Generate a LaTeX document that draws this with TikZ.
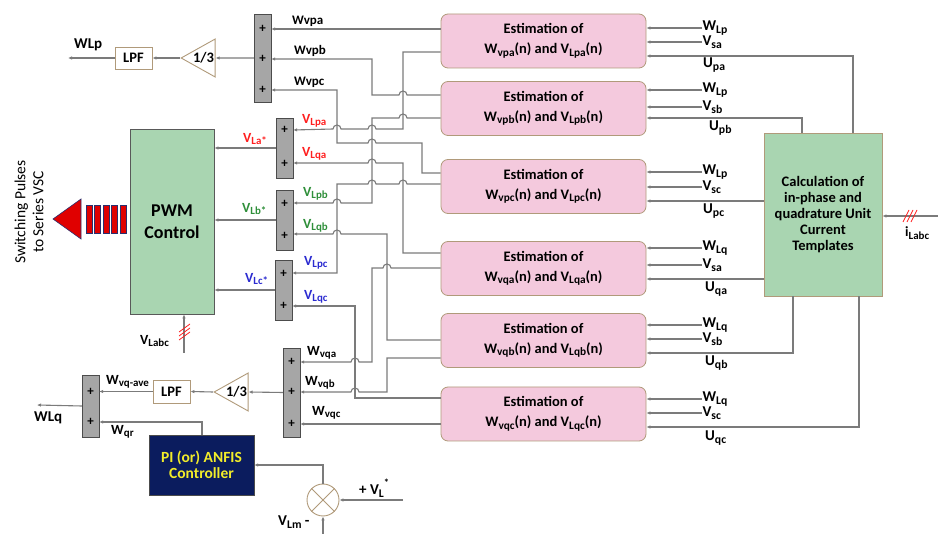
\documentclass[tikz,border=0pt]{standalone}
\usepackage{fontspec}
\setmainfont{Carlito}
\usetikzlibrary{arrows.meta,positioning,shapes.geometric}
\definecolor{wiregray}{HTML}{7B7B7B}
\definecolor{estpink}{HTML}{F4C9DD}
\definecolor{tanline}{HTML}{B09A7A}
\definecolor{boxgreen}{HTML}{A9D5B1}
\definecolor{sumgray}{HTML}{A6A6A6}
\definecolor{pinavy}{HTML}{0B1C5E}
\definecolor{piyellow}{HTML}{F2EC2A}
\definecolor{lred}{HTML}{FF1F1F}
\definecolor{lgreen}{HTML}{2F8F3A}
\definecolor{lblue}{HTML}{2B2BD0}
\definecolor{arrred}{HTML}{E00000}
\definecolor{arrblue}{HTML}{2A2F6E}
\newcommand{\sub}[2]{#1\raisebox{-0.35ex}{\scalebox{0.78}{#2}}}
% small bridge where a wire running left jumps over a vertical one
\newcommand{\hop}[2]{-- (#1+4,#2) arc[start angle=0,end angle=180,radius=4pt]}

\begin{document}
\begin{tikzpicture}[
      x=1pt, y=-1pt,
      font=\fontsize{14}{16}\selectfont\bfseries,
      wire/.style={draw=wiregray, line width=1.1pt},
      arrow/.style={wire, -{Latex[length=4pt,width=3.5pt]}},
      est/.style={draw=tanline, fill=estpink, rounded corners=7pt, line width=0.8pt, minimum width=205pt, minimum height=54pt, align=center, font=\fontsize{14.5}{20}\selectfont\bfseries},
      sumbar/.style={draw=gray!60!black, fill=sumgray, minimum width=17pt, inner sep=0pt},
      plus/.style={inner sep=0pt, font=\fontsize{13}{13}\selectfont\bfseries},
      lpf/.style={draw=tanline, fill=white, line width=0.9pt, minimum width=37pt, minimum height=22pt, inner sep=0pt, font=\fontsize{14.5}{15}\selectfont\bfseries},
      gain/.style={isosceles triangle, shape border rotate=180, isosceles triangle stretches, draw=tanline, fill=white, line width=0.9pt, minimum width=38pt, minimum height=28pt, inner sep=0pt, font=\fontsize{14.5}{15}\selectfont\bfseries},
      lab/.style={anchor=west, inner sep=0pt},
      rlab/.style={anchor=west, inner sep=0pt, font=\fontsize{15}{15}\selectfont\bfseries},
      hash/.style={draw=lred, line width=0.8pt}
    ]
    \useasboundingbox (0,0) rectangle (938,534);

    % estimation blocks
    \node[est] (e1) at (543.5,41)  {Estimation of\\\sub{W}{vpa}(n) and \sub{V}{Lpa}(n)};
    \node[est] (e2) at (543.5,108.5) {Estimation of\\\sub{W}{vpb}(n) and \sub{V}{Lpb}(n)};
    \node[est] (e3) at (543.5,186.5) {Estimation of\\\sub{W}{vpc}(n) and \sub{V}{Lpc}(n)};
    \node[est] (e4) at (543.5,268.5) {Estimation of\\\sub{W}{vqa}(n) and \sub{V}{Lqa}(n)};
    \node[est] (e5) at (543.5,340.5) {Estimation of\\\sub{W}{vqb}(n) and \sub{V}{Lqb}(n)};
    \node[est] (e6) at (543.5,414)  {Estimation of\\\sub{W}{vqc}(n) and \sub{V}{Lqc}(n)};

    \node[draw=tanline, fill=boxgreen, line width=0.8pt, minimum width=118pt, minimum height=163pt, align=center, font=\fontsize{14.5}{16}\selectfont\bfseries] (calc) at (823,214.5)
      {Calculation of\\in-phase and\\quadrature Unit\\Current\\Templates};
    \node[draw=gray!70!black, fill=boxgreen, line width=0.8pt, minimum width=84pt, minimum height=185pt, align=center, font=\fontsize{18}{22}\selectfont\bfseries] (pwm) at (172,221.5) {PWM\\Control};

    % summing bars
    \node[sumbar, minimum height=88pt] (sp) at (262.5,58) {};
    \node[sumbar, minimum height=60pt] (sa) at (284.5,148) {};
    \node[sumbar, minimum height=60pt] (sb) at (284.5,220) {};
    \node[sumbar, minimum height=60pt] (sc) at (283.5,290) {};
    \node[sumbar, minimum height=89pt] (sq) at (291.5,392.5) {};
    \node[sumbar, minimum height=62pt] (sl) at (90.5,406) {};
    \foreach \y [count=\i] in {29,59,90} \node[plus] (spp\i) at (262.5,\y) {+};
    \foreach \y [count=\i] in {130,164} \node[plus] (sap\i) at (284.5,\y) {+};
    \foreach \y [count=\i] in {204,236} \node[plus] (sbp\i) at (284.5,\y) {+};
    \foreach \y [count=\i] in {274,306} \node[plus] (scp\i) at (283.5,\y) {+};
    \foreach \y [count=\i] in {362,392,424} \node[plus] (sqp\i) at (291.5,\y) {+};
    \foreach \y [count=\i] in {392,422} \node[plus] (slp\i) at (90.5,\y) {+};

    \node[gain, anchor=west] (gp) at (180,58) {1/3};
    \node[gain, anchor=west] (gq) at (213,392) {1/3};
    \node[lpf] (lpfp) at (133.5,58) {LPF};
    \node[lpf, minimum height=23pt] (lpfq) at (171.5,391.5) {LPF};
    \node[fill=pinavy, draw=gray!60!black, minimum width=105pt, minimum height=60pt, align=center, text=piyellow, font=\fontsize{15.5}{16}\selectfont\bfseries] (pi) at (201.5,465) {PI (or) ANFIS\\Controller};
    \node[circle, draw=tanline, fill=white, line width=0.9pt, minimum size=32pt, inner sep=0pt] (mul) at (323,500) {};
    \draw[draw=tanline, line width=0.9pt] (mul.north west) -- (mul.south east) (mul.north east) -- (mul.south west);

    % p-axis averaging
    \draw[arrow] (sp.west) -- (gp.east);
    \draw[arrow] (gp.west) -- (lpfp.east);
    \draw[arrow] (lpfp.west) -- (68,58) coordinate (wlpend);
    \node[rlab] (wlp) at (74,45) {WLp};
    \draw[arrow] (e1.west |- 0,29) -- (sp.east |- 0,29);
    \draw[arrow] (e2.west |- 0,95) \hop{403}{95} -- (372,95) -- (372,59) -- (sp.east |- 0,59);
    \draw[arrow] (e3.west |- 0,173) -- (422,173) -- (422,143) \hop{372}{143} -- (337,143) -- (337,90) -- (sp.east |- 0,90);
    \node[lab, font=\fontsize{13}{13}\selectfont\bfseries] (lwvpa) at (292,21) {Wvpa};
    \node[lab, font=\fontsize{13}{13}\selectfont\bfseries] (lwvpb) at (294,51) {Wvpb};
    \node[lab, font=\fontsize{13}{13}\selectfont\bfseries] (lwvpc) at (294,82) {Wvpc};

    % load voltage components
    \draw[arrow] (e1.west |- 0,52) -- (403,52) -- (403,129) \hop{372}{129} \hop{337}{129} -- (sa.east |- 0,130);
    \draw[arrow] (e4.west |- 0,253) -- (403,253) -- (403,163) \hop{372}{163} -- (sa.east |- 0,163);
    \draw[arrow] (e2.west |- 0,118) \hop{403}{118} -- (372,118) -- (372,203) \hop{337}{203} -- (sb.east |- 0,203);
    \draw[arrow] (e5.west |- 0,340) -- (387,340) -- (387,234) \hop{337}{234} -- (sb.east |- 0,234);
    \draw[arrow] (e3.west |- 0,184) \hop{403}{184} \hop{372}{184} -- (337,184) -- (337,273) -- (sc.east |- 0,273);
    \draw[arrow] (e6.west |- 0,398) -- (355,398) -- (355,306) -- (sc.east |- 0,306);
    \node[lab, text=lred] (lvlpa) at (302,121) {\sub{V}{Lpa}};
    \node[lab, text=lred] (lvlqa) at (302,154) {\sub{V}{Lqa}};
    \node[lab, text=lgreen] (lvlpb) at (303,194) {\sub{V}{Lpb}};
    \node[lab, text=lgreen] (lvlqb) at (303,226) {\sub{V}{Lqb}};
    \node[lab, text=lblue] (lvlpc) at (304,263) {\sub{V}{Lpc}};
    \node[lab, text=lblue] (lvlqc) at (304,297) {\sub{V}{Lqc}};

    \draw[arrow] (sa.west) -- (pwm.east |- sa.west);
    \draw[arrow] (sb.west) -- (pwm.east |- sb.west);
    \draw[arrow] (sc.west) -- (pwm.east |- sc.west);
    \node[lab, text=lred] (lvla) at (243,139) {\sub{V}{La*}};
    \node[lab, text=lgreen] (lvlb) at (242,209) {\sub{V}{Lb*}};
    \node[lab, text=lblue] (lvlc) at (245,279) {\sub{V}{Lc*}};

    % q-axis averaging
    \draw[arrow] (e4.west |- 0,268) \hop{387}{268} -- (372,268) -- (372,362) \hop{355}{362} -- (sq.east |- 0,362);
    \draw[arrow] (e5.west |- 0,358) -- (387,358) -- (387,392) \hop{355}{392} -- (sq.east |- 0,392);
    \draw[arrow] (e6.west |- 0,424) -- (sq.east |- 0,424);
    \node[lab] (lwvqa) at (307,353) {\sub{W}{vqa}};
    \node[lab] (lwvqb) at (305,383) {\sub{W}{vqb}};
    \node[lab] (lwvqc) at (312,413) {\sub{W}{vqc}};
    \draw[arrow] (sq.west) -- (gq.east);
    \draw[arrow] (gq.west) -- (lpfq.east);
    \draw[arrow] (lpfq.west) -- (sl.east |- lpfq.west);
    \node[lab] (lwvqave) at (106,382) {\sub{W}{vq-ave}};
    \draw[arrow] (sl.west) -- (37,405) coordinate (wlqend);
    \node[rlab] (wlq) at (34,418) {WLq};
    \draw[arrow] (pi.north -| 202,0) -- (202,422) -- (sl.east |- 0,422);
    \node[lab] (lwqr) at (111,432) {\sub{W}{qr}};

    % dc link voltage loop
    \draw[arrow] (mul.north) -- (323,465) -- (pi.east |- 0,465);
    \coordinate (vlref) at (403,500);
    \draw[arrow] (vlref) -- (mul.east);
    \node[rlab] (lvlref) at (359,488) {+ \sub{V}{L}\raisebox{1.1ex}{\scalebox{0.7}{*}}};
    \coordinate (vlm) at (323,534);
    \draw[arrow] (vlm) -- (mul.south);
    \node[rlab] (lvlm) at (278,522) {\sub{V}{Lm} -};

    % reference inputs on the right
    \foreach \b/\wy/\vy/\ws/\vs in {e1/28/42/Lp/sa, e2/90/107/Lp/sb, e3/172/187/Lp/sc, e4/248/265/Lq/sa, e5/325/339/Lq/sb, e6/399/413/Lq/sc} {
      \draw[arrow] (702,\wy) node[rlab] (w\b) {\sub{W}{\ws}} -- (\b.east |- 0,\wy);
      \draw[arrow] (702,\vy) node[rlab] (v\b) {\sub{V}{\vs}} -- (\b.east |- 0,\vy);
    }
    \draw[arrow] (calc.north -| 853,0) -- (853,56) -- (e1.east |- 0,56);
    \draw[arrow] (calc.north -| 802,0) -- (802,118) -- (e2.east |- 0,118);
    \draw[arrow] (calc.west |- 0,201) -- (e3.east |- 0,201);
    \draw[arrow] (calc.west |- 0,279) -- (e4.east |- 0,279);
    \draw[arrow] (calc.south -| 793,0) -- (793,353) -- (e5.east |- 0,353);
    \draw[arrow] (calc.south -| 859,0) -- (859,427) -- (e6.east |- 0,427);
    \node[rlab] (lupa) at (703,65) {\sub{U}{pa}};
    \node[rlab] (lupb) at (709,128) {\sub{U}{pb}};
    \node[rlab] (lupc) at (703,211) {\sub{U}{pc}};
    \node[rlab] (luqa) at (705,289) {\sub{U}{qa}};
    \node[rlab] (luqb) at (705,363) {\sub{U}{qb}};
    \node[rlab] (luqc) at (705,438) {\sub{U}{qc}};

    % measured currents and voltages
    \coordinate (ilin) at (938,216);
    \draw[arrow] (ilin) -- (calc.east |- ilin);
    \foreach \d in {0,4,8} \draw[hash] (903+\d,222) -- (909+\d,210);
    \node[lab] (lil) at (905,233) {\sub{i}{Labc}};
    \coordinate (vlin) at (184,353);
    \draw[arrow] (vlin) -- (pwm.south -| vlin);
    \foreach \d in {0,4,8} \draw[hash] (179,340-\d) -- (190,332-\d);
    \node[lab] (lvlabc) at (140,341) {\sub{V}{Labc}};

    % switching pulses
    \foreach \s in {86,94.5,103,111.5,120}
      \fill[arrred, draw=arrblue, line width=0.6pt] (\s,205) rectangle ++(6,28);
    \fill[arrred, draw=arrblue, line width=0.6pt] (53,219) -- (81,199) -- (81,239) -- cycle;
    \node[rotate=90, align=center, font=\fontsize{15.5}{18}\selectfont] (swp) at (29,212) {Switching Pulses\\to Series VSC};
  \end{tikzpicture}
\end{document}
